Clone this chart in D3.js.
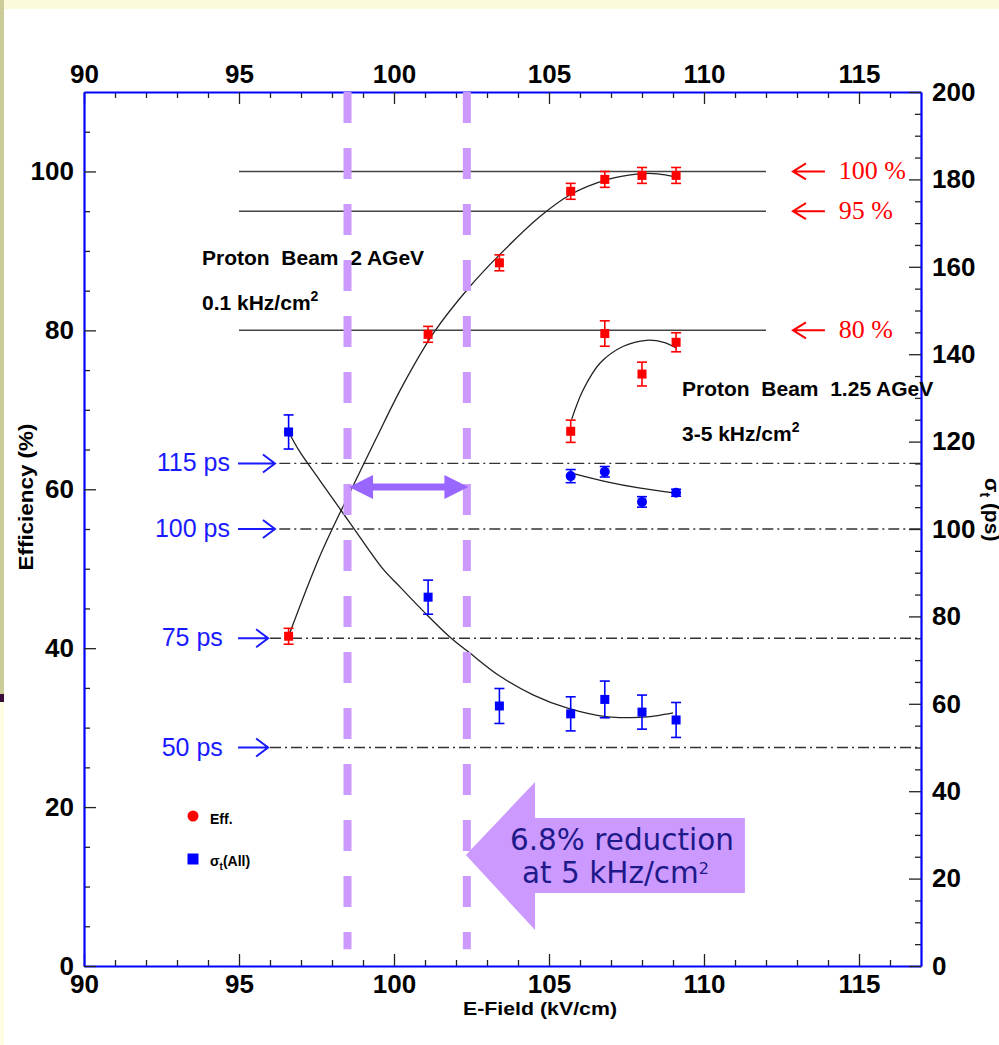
<!DOCTYPE html>
<html>
<head>
<meta charset="utf-8">
<script src="https://cdn.jsdelivr.net/npm/d3@7"></script>
<style>
  body { margin: 0; background: #ffffff; }
  svg { display: block; }
</style>
</head>
<body>
<svg id="chart" width="999" height="1045" font-family="'Liberation Sans', Arial, Helvetica, sans-serif"></svg>
<script>
// ---- measurements: proton beam 2 AGeV, 0.1 kHz/cm2 ----
const fieldLow = [96.6, 101.1, 103.4, 105.7, 106.8, 108.0, 109.1];
const effLow = [41.5, 79.5, 88.5, 97.5, 99.0, 99.5, 99.5];
const effLowErr = [1.0, 1.0, 1.0, 1.0, 1.0, 1.0, 1.0];
const sigmaLow = [122.2, 84.4, 59.5, 57.7, 61.0, 58.1, 56.3];
const sigmaLowErr = [3.9, 3.9, 4.0, 3.9, 4.2, 3.9, 4.0];

// ---- measurements: proton beam 1.25 AGeV, 3-5 kHz/cm2 ----
const fieldHigh = [105.7, 106.8, 108.0, 109.1];
const effHigh = [67.3, 79.6, 74.5, 78.5];
const effHighErr = [1.4, 1.6, 1.5, 1.2];
const sigmaHigh = [112.1, 113.1, 106.2, 108.3];
const sigmaHighErr = [1.5, 1.2, 1.2, 0.8];

// ---- fitted curves, sampled along the field ----
const effLowFitX = [96.6, 97.6, 98.5, 99.4, 100.3, 101.3, 102.4, 103.4, 104.7, 105.7, 106.9, 107.9, 108.5, 109.1];
const effLowFitY = [41.5, 51.5, 59.0, 66.2, 73.2, 79.8, 85.3, 89.5, 94.3, 97.1, 99.0, 99.7, 99.7, 99.3];
const sigmaLowFitX = [96.6, 96.95, 97.6, 98.6, 99.65, 100.2, 101.0, 101.8, 102.45, 103.4, 104.5, 105.6, 106.9, 107.9, 108.5, 109.0];
const sigmaLowFitY = [122.2, 117.8, 111.2, 101.2, 90.8, 86.7, 80.8, 75.3, 71.6, 66.4, 62.0, 59.0, 57.0, 56.9, 57.3, 57.9];
const effHighFitX = [105.73, 106.1, 106.65, 107.4, 108.15, 108.7, 109.1];
const effHighFitY = [68.8, 72.5, 75.9, 78.0, 78.75, 78.5, 77.8];
const sigmaHighFitX = [105.73, 106.87, 107.9, 109.1];
const sigmaHighFitY = [112.8, 110.8, 109.4, 108.2];

// ---- axis ticks ----
const fieldTicks = [90, 95, 100, 105, 110, 115];
const effTicks = [0, 20, 40, 60, 80, 100];
const sigmaTicks = [0, 20, 40, 60, 80, 100, 120, 140, 160, 180, 200];

// ---- reference levels ----
const effLevels = [100, 95, 80];
const effLevelLabels = ["100 %", "95 %", "80 %"];
const sigmaLevels = [115, 100, 75, 50];
const sigmaLevelLabels = ["115 ps", "100 ps", "75 ps", "50 ps"];

// ---- operating window (kV/cm) ----
const windowEdges = [98.5, 102.35];

const svg = d3.select("#chart");
const W = 999, H = 1045;
const SANS = "'Liberation Sans', Arial, Helvetica, sans-serif";

// slide background
svg.append("rect").attr("x", 0).attr("y", 0).attr("width", W).attr("height", H).attr("fill", "#ffffff");
svg.append("rect").attr("x", 0).attr("y", 0).attr("width", W).attr("height", 9).attr("fill", "#fbfbdc");
svg.append("rect").attr("x", 0).attr("y", 0).attr("width", 4).attr("height", 694).attr("fill", "#cccc99");
svg.append("rect").attr("x", 0).attr("y", 694).attr("width", 4).attr("height", 8).attr("fill", "#3a0c3a");
svg.append("rect").attr("x", 0).attr("y", 702).attr("width", 4).attr("height", H - 702).attr("fill", "#fdfde4");

// scales
const x = d3.scaleLinear().domain([90, 117]).range([84, 921]);
const yL = d3.scaleLinear().domain([0, 110]).range([966, 92]);
const yR = d3.scaleLinear().domain([0, 200]).range([966, 92]);

// horizontal efficiency levels
svg.append("g").selectAll("line").data(effLevels).join("line")
  .attr("x1", x(95)).attr("x2", x(112))
  .attr("y1", d => yL(d)).attr("y2", d => yL(d))
  .attr("stroke", "#444").attr("stroke-width", 1.5);

// dash-dot time-resolution levels
const sigmaLineStart = [96.3, 96.3, 96.0, 96.0];
svg.append("g").selectAll("line").data(sigmaLevels).join("line")
  .attr("x1", (d, i) => x(sigmaLineStart[i])).attr("x2", x(117))
  .attr("y1", d => yR(d)).attr("y2", d => yR(d))
  .attr("stroke", "#333").attr("stroke-width", 1.3)
  .attr("stroke-dasharray", "11,4,2,4");

// fitted curves
const line = d3.line().curve(d3.curveCatmullRom.alpha(0.5));
function fit(xs, ys, yScale) {
  svg.append("path")
    .attr("d", line(xs.map((v, i) => [x(v), yScale(ys[i])])))
    .attr("fill", "none").attr("stroke", "#222").attr("stroke-width", 1.3);
}
fit(effLowFitX, effLowFitY, yL);
fit(sigmaLowFitX, sigmaLowFitY, yR);
fit(effHighFitX, effHighFitY, yL);
fit(sigmaHighFitX, sigmaHighFitY, yR);

// points with error bars
function series(xs, ys, es, yScale, color, shape) {
  const g = svg.append("g");
  const pts = xs.map((v, i) => ({ x: v, y: ys[i], e: es[i] }));
  g.selectAll("line.bar").data(pts).join("line").attr("class", "bar")
    .attr("x1", d => x(d.x)).attr("x2", d => x(d.x))
    .attr("y1", d => yScale(d.y - d.e)).attr("y2", d => yScale(d.y + d.e))
    .attr("stroke", color).attr("stroke-width", 1.6);
  ["lo", "hi"].forEach(k => {
    g.selectAll("line.cap" + k).data(pts).join("line").attr("class", "cap" + k)
      .attr("x1", d => x(d.x) - 5).attr("x2", d => x(d.x) + 5)
      .attr("y1", d => yScale(k === "lo" ? d.y - d.e : d.y + d.e))
      .attr("y2", d => yScale(k === "lo" ? d.y - d.e : d.y + d.e))
      .attr("stroke", color).attr("stroke-width", 1.6);
  });
  if (shape === "square") {
    g.selectAll("rect").data(pts).join("rect")
      .attr("x", d => x(d.x) - 4.5).attr("y", d => yScale(d.y) - 4.5)
      .attr("width", 9).attr("height", 9).attr("fill", color);
  } else {
    g.selectAll("circle").data(pts).join("circle")
      .attr("cx", d => x(d.x)).attr("cy", d => yScale(d.y)).attr("r", 5)
      .attr("fill", color);
  }
}
series(fieldLow, effLow, effLowErr, yL, "#ff0000", "square");
series(fieldHigh, effHigh, effHighErr, yL, "#ff0000", "square");
series(fieldLow, sigmaLow, sigmaLowErr, yR, "#0000ff", "square");
series(fieldHigh, sigmaHigh, sigmaHighErr, yR, "#0000ff", "circle");

// axes
function styleAxis(g) {
  g.attr("font-family", SANS).attr("font-size", null);
  g.select(".domain").attr("stroke", "#0000ff").attr("stroke-width", 2.2);
  g.selectAll(".tick line").attr("stroke", "#222").attr("stroke-width", 1.3);
  g.selectAll(".tick text")
    .attr("font-weight", "bold").attr("font-size", 26).attr("fill", "#000");
}
function minor(g) {
  g.select(".domain").remove();
  g.selectAll(".tick line").attr("stroke", "#222").attr("stroke-width", 1.3);
  g.selectAll(".tick text").remove();
}
const fieldMinor = d3.range(91, 117).filter(v => v % 5 !== 0);
const effMinor = d3.range(5, 110, 5).filter(v => v % 20 !== 0);
const sigmaMinor = d3.range(5, 200, 5).filter(v => v % 20 !== 0);

svg.append("g").attr("transform", "translate(0,966)")
  .call(d3.axisBottom(x).tickValues(fieldMinor).tickSizeInner(-6).tickSizeOuter(0).tickFormat("")).call(minor);
svg.append("g").attr("transform", "translate(0,92)")
  .call(d3.axisTop(x).tickValues(fieldMinor).tickSizeInner(-6).tickSizeOuter(0).tickFormat("")).call(minor);
svg.append("g").attr("transform", "translate(84,0)")
  .call(d3.axisLeft(yL).tickValues(effMinor).tickSizeInner(-6).tickSizeOuter(0).tickFormat("")).call(minor);
svg.append("g").attr("transform", "translate(921,0)")
  .call(d3.axisRight(yR).tickValues(sigmaMinor).tickSizeInner(-6).tickSizeOuter(0).tickFormat("")).call(minor);

svg.append("g").attr("transform", "translate(0,966)")
  .call(d3.axisBottom(x).tickValues(fieldTicks).tickFormat(d3.format("d")).tickSizeInner(-12).tickSizeOuter(0).tickPadding(9))
  .call(styleAxis);
svg.append("g").attr("transform", "translate(0,92)")
  .call(d3.axisTop(x).tickValues(fieldTicks).tickFormat(d3.format("d")).tickSizeInner(-12).tickSizeOuter(0).tickPadding(9))
  .call(styleAxis);
svg.append("g").attr("transform", "translate(84,0)")
  .call(d3.axisLeft(yL).tickValues(effTicks).tickFormat(d3.format("d")).tickSizeInner(-12).tickSizeOuter(0).tickPadding(10))
  .call(styleAxis);
svg.append("g").attr("transform", "translate(921,0)")
  .call(d3.axisRight(yR).tickValues(sigmaTicks).tickFormat(d3.format("d")).tickSizeInner(-12).tickSizeOuter(0).tickPadding(11))
  .call(styleAxis);

// axis titles
svg.append("text").attr("x", 540).attr("y", 1015).attr("text-anchor", "middle")
  .attr("font-weight", "bold").attr("font-size", 19)
  .attr("textLength", 154).attr("lengthAdjust", "spacingAndGlyphs")
  .text("E-Field (kV/cm)");
svg.append("text").attr("transform", "translate(33,497) rotate(-90)").attr("text-anchor", "middle")
  .attr("font-weight", "bold").attr("font-size", 20)
  .attr("textLength", 147).attr("lengthAdjust", "spacingAndGlyphs")
  .text("Efficiency (%)");
const rt = svg.append("text").attr("transform", "translate(985,478) rotate(90)")
  .attr("font-weight", "bold").attr("font-size", 21);
rt.append("tspan").text("σ");
rt.append("tspan").attr("font-size", 14).attr("dy", 5).text("t");
rt.append("tspan").attr("dy", -5).text(" (ps)");

// beam condition labels
function beamLabel(xp, yp, l1, l2) {
  svg.append("text").attr("x", xp).attr("y", yp).attr("font-weight", "bold").attr("font-size", 21)
    .style("white-space", "pre").text(l1);
  const t = svg.append("text").attr("x", xp).attr("y", yp + 45).attr("font-weight", "bold").attr("font-size", 21);
  t.append("tspan").text(l2);
  t.append("tspan").attr("font-size", 14).attr("dy", -9).text("2");
}
beamLabel(202, 265, "Proton  Beam  2 AGeV", "0.1 kHz/cm");
beamLabel(682, 396, "Proton  Beam  1.25 AGeV", "3-5 kHz/cm");

// efficiency level markers (right)
effLevels.forEach((lv, i) => {
  const yy = yL(lv);
  const tip = x(112.87), tail = x(113.9);
  svg.append("path")
    .attr("d", `M${tail},${yy}H${tip}M${tip + 13},${yy - 8}L${tip},${yy}L${tip + 13},${yy + 8}`)
    .attr("fill", "none").attr("stroke", "#ff0000").attr("stroke-width", 2);
  svg.append("text").attr("x", x(114.35)).attr("y", yy + 8)
    .attr("font-family", "'Liberation Serif', 'Times New Roman', serif")
    .attr("font-size", 26).attr("fill", "#ff0000").text(effLevelLabels[i]);
});

// time-resolution level markers (left)
const sigmaLabelEnd = [94.71, 94.71, 94.48, 94.48];
const sigmaArrowTip = [96.16, 96.16, 95.94, 95.94];
sigmaLevels.forEach((lv, i) => {
  const yy = yR(lv);
  const tail = x(94.97), tip = x(sigmaArrowTip[i]);
  svg.append("path")
    .attr("d", `M${tail},${yy}H${tip}M${tip - 12},${yy - 9}L${tip},${yy}L${tip - 12},${yy + 9}`)
    .attr("fill", "none").attr("stroke", "#1a1aff").attr("stroke-width", 2);
  svg.append("text").attr("x", x(sigmaLabelEnd[i])).attr("y", yy + 8).attr("text-anchor", "end")
    .attr("font-size", 25).attr("fill", "#1a1aff").text(sigmaLevelLabels[i]);
});

// legend
svg.append("circle").attr("cx", 193).attr("cy", 816).attr("r", 5.5).attr("fill", "#ff0000");
svg.append("text").attr("x", 210).attr("y", 824).attr("font-weight", "bold").attr("font-size", 14).text("Eff.");
svg.append("rect").attr("x", 187.5).attr("y", 853.5).attr("width", 11).attr("height", 11).attr("fill", "#0000ff");
const lg = svg.append("text").attr("x", 210).attr("y", 866).attr("font-weight", "bold").attr("font-size", 14);
lg.append("tspan").text("σ");
lg.append("tspan").attr("font-size", 10).attr("dy", 4).text("t");
lg.append("tspan").attr("dy", -4).text("(All)");

// operating window: dashed edges and span arrow
svg.append("g").selectAll("line").data(windowEdges).join("line")
  .attr("x1", d => x(d)).attr("x2", d => x(d))
  .attr("y1", yL(110)).attr("y2", yL(2.1))
  .attr("stroke", "#cc99ff").attr("stroke-width", 8).attr("stroke-dasharray", "31,25");

const ay = yL(60.3), ax1 = x(98.55), ax2 = x(102.4);
svg.append("path")
  .attr("d", `M${ax1},${ay}L${ax1 + 24},${ay - 12}V${ay - 3.5}H${ax2 - 24}V${ay - 12}L${ax2},${ay}L${ax2 - 24},${ay + 12}V${ay + 3.5}H${ax1 + 24}V${ay + 12}Z`)
  .attr("fill", "#9966ff");

// rate-reduction callout
const cTip = [102.32, 13.97], cHead = 104.55, cEnd = 111.32;
const cOuter = [23.16, 4.53], cBody = [18.63, 9.19];
svg.append("path")
  .attr("d", `M${x(cTip[0])},${yL(cTip[1])}L${x(cHead)},${yL(cOuter[0])}V${yL(cBody[0])}H${x(cEnd)}V${yL(cBody[1])}H${x(cHead)}V${yL(cOuter[1])}Z`)
  .attr("fill", "#cc99ff");
svg.append("text").attr("x", x(103.74)).attr("y", yL(14.6))
  .attr("font-family", "'DejaVu Sans', Verdana, sans-serif").attr("font-size", 29.5).attr("fill", "#1f1a8a")
  .text("6.8% reduction");
const c2 = svg.append("text").attr("x", x(104.13)).attr("y", yL(10.45))
  .attr("font-family", "'DejaVu Sans', Verdana, sans-serif").attr("font-size", 29.5).attr("fill", "#1f1a8a");
c2.append("tspan").text("at 5 kHz/cm");
c2.append("tspan").attr("font-size", 16).attr("dy", -9).text("2");
</script>
</body>
</html>
